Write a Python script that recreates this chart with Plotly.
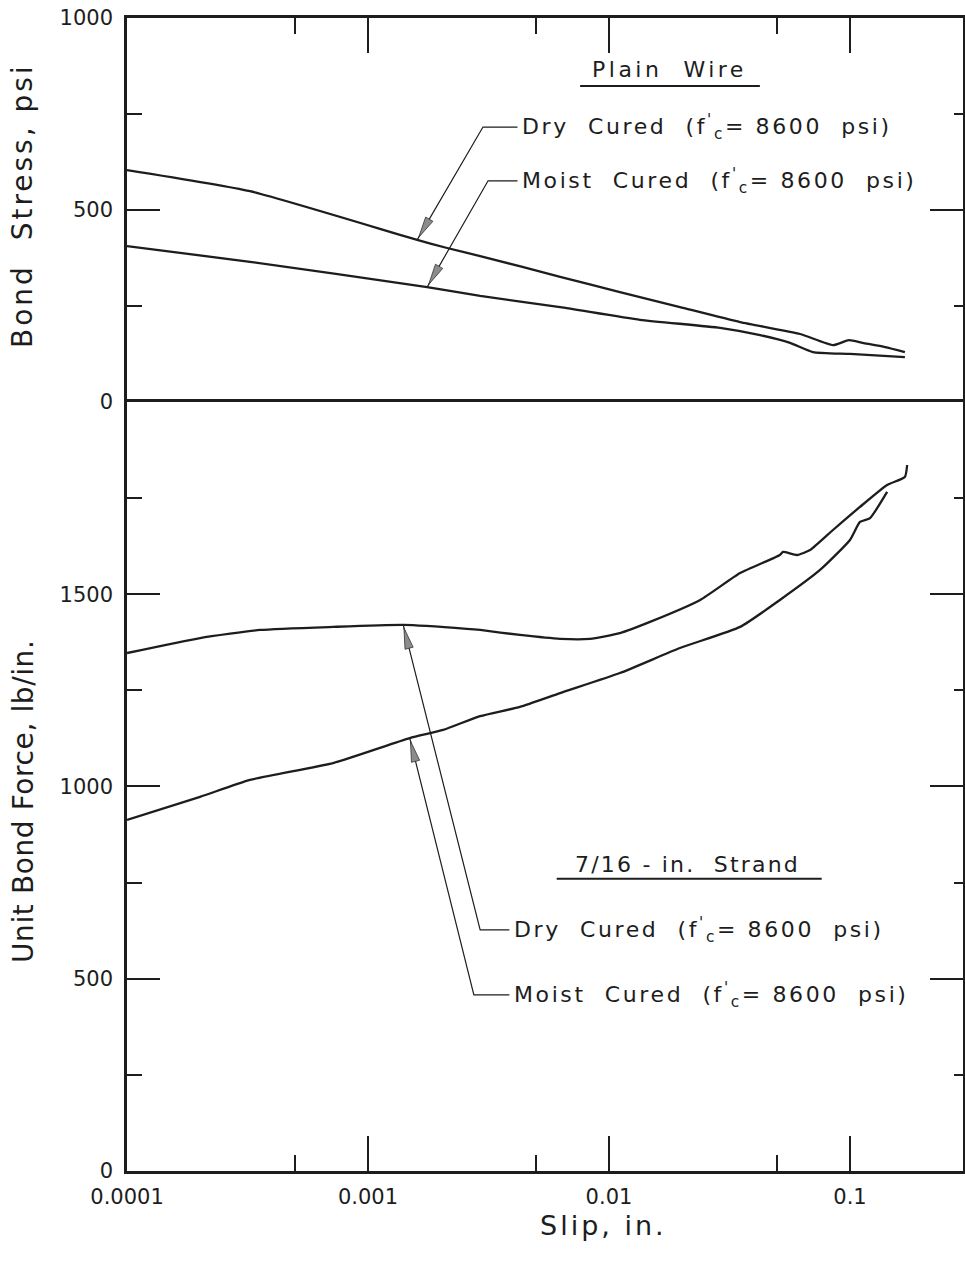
import math
import plotly.graph_objects as go

# ---------------- data ----------------
# Plain wire: bond stress (psi) vs slip (in.)
wire_dry_slip = [1.0e-4, 3.24e-4, 1.60e-3, 2.13e-3, 2.92e-3, 6.27e-3, 0.0111, 0.0197,
                 0.0350, 0.0621, 0.0850, 0.0990, 0.1130, 0.1400, 0.1690]
wire_dry_stress = [604, 549, 422, 401, 380, 326, 286, 247, 208, 177, 148, 161, 154, 143, 130]

wire_moist_slip = [1.0e-4, 3.24e-4, 1.76e-3, 2.92e-3, 6.27e-3, 0.01346, 0.0289, 0.0424,
                   0.0564, 0.0702, 0.1000, 0.1690]
wire_moist_stress = [406, 365, 299, 276, 247, 214, 193, 174, 154, 130, 125, 117]

# 7/16-in. strand: unit bond force (lb/in.) vs slip (in.)
strand_dry_slip = [1.0e-4, 2.01e-4, 3.57e-4, 7.16e-4, 1.40e-3, 2.57e-3, 2.92e-3, 4.27e-3,
                   6.27e-3, 8.34e-3, 0.0111, 0.0148, 0.0239, 0.0350, 0.0512, 0.0528,
                   0.0603, 0.0683, 0.0850, 0.1100, 0.1426, 0.1690, 0.1727]
strand_dry_force = [1347, 1386, 1407, 1415, 1420, 1410, 1407, 1394, 1384, 1384, 1399, 1428,
                    1485, 1555, 1602, 1610, 1602, 1615, 1667, 1727, 1784, 1805, 1836]

strand_moist_slip = [1.0e-4, 2.01e-4, 3.24e-4, 7.16e-4, 1.49e-3, 2.05e-3, 2.92e-3, 4.27e-3,
                     6.27e-3, 0.0111, 0.0197, 0.0350, 0.0512, 0.0751, 0.1000, 0.1100,
                     0.1211, 0.1426]
strand_moist_force = [913, 973, 1017, 1061, 1126, 1147, 1183, 1207, 1243, 1295, 1360, 1415,
                      1485, 1563, 1641, 1688, 1698, 1766]

# axis ticks
slip_major = [1e-4, 1e-3, 1e-2, 1e-1]
slip_major_text = ["0.0001", "0.001", "0.01", "0.1"]
slip_minor = [5e-4, 5e-3, 5e-2]
stress_major = [0, 500, 1000]
stress_minor = [250, 750]
force_major = [0, 500, 1000, 1500, 2000]
force_major_text = ["0", "500", "1000", "1500", ""]
force_minor = [250, 750, 1250, 1750]

# leader annotations: (tip slip, tip value, bend slip, bend value, text slip, text value)
wire_dry_leader = (1.60e-3, 422, 3.00e-3, 716, 4.28e-3, 716)
wire_moist_leader = (1.76e-3, 299, 3.15e-3, 576, 4.28e-3, 576)
strand_dry_leader = (1.40e-3, 1420, 2.92e-3, 627, 3.96e-3, 627)
strand_moist_leader = (1.49e-3, 1126, 2.75e-3, 458, 3.96e-3, 458)

FONT = "DejaVu Sans"
INK = "#1d1d1d"

# ---------------- geometry helpers (layout only) ----------------
W, H = 965, 1262
ML, MR, MT, MB = 127, 2, 18, 91
PW, PH = W - ML - MR, H - MT - MB
XR = [-4, -0.531]
SPLIT = 0.667
PANELS = {"y": (SPLIT, 1.0, 0, 1000), "y2": (0.0, SPLIT, 0, 2000)}


def to_px(xv, yv, ya):
    d0, d1, r0, r1 = PANELS[ya]
    fx = (math.log10(xv) - XR[0]) / (XR[1] - XR[0])
    fy = d0 + (d1 - d0) * (yv - r0) / (r1 - r0)
    return ML + fx * PW, MT + (1 - fy) * PH


def to_paper(px, py):
    return (px - ML) / PW, (MT + PH - py) / PH


fig = go.Figure()


def curve(x, y, xa, ya):
    fig.add_trace(go.Scatter(x=x, y=y, mode="lines", xaxis=xa, yaxis=ya,
                             line=dict(color=INK, width=2.3, shape="spline", smoothing=0.5),
                             showlegend=False, hoverinfo="skip"))


curve(wire_dry_slip, wire_dry_stress, "x", "y")
curve(wire_moist_slip, wire_moist_stress, "x", "y")
curve(strand_dry_slip, strand_dry_force, "x2", "y2")
curve(strand_moist_slip, strand_moist_force, "x2", "y2")


def spaced(s, ls=3):
    return f'<span style="letter-spacing:{ls}px">{s}</span>'


label_dry = "Dry  Cured  (f<sup>'</sup><sub>c</sub>= 8600  psi)"
label_moist = "Moist  Cured  (f<sup>'</sup><sub>c</sub>= 8600  psi)"

annotations = []
shapes = []


def leader(ld, label, xa, ya):
    tx, ty, bx, by, lx, ly = ld
    fig.add_trace(go.Scatter(x=[tx, bx, lx * 0.975], y=[ty, by, ly], mode="lines",
                             xaxis=xa, yaxis=ya, line=dict(color=INK, width=1.2),
                             showlegend=False, hoverinfo="skip"))
    # elongated filled arrowhead
    tpx, tpy = to_px(tx, ty, ya)
    bpx, bpy = to_px(bx, by, ya)
    dx, dy = tpx - bpx, tpy - bpy
    n = math.hypot(dx, dy)
    ux, uy = dx / n, dy / n
    tipx, tipy = tpx - 3 * ux, tpy - 3 * uy
    cx, cy = tipx - 21 * ux, tipy - 21 * uy
    nx, ny = -uy, ux
    pts = [(tipx, tipy), (cx + 4.2 * nx, cy + 4.2 * ny), (cx - 4.2 * nx, cy - 4.2 * ny)]
    pp = [to_paper(*p) for p in pts]
    path = "M{:.5f},{:.5f} L{:.5f},{:.5f} L{:.5f},{:.5f} Z".format(*pp[0], *pp[1], *pp[2])
    shapes.append(dict(type="path", xref="paper", yref="paper", path=path,
                       fillcolor="#8c8c8c", line=dict(color="#333333", width=0.8)))
    annotations.append(dict(x=math.log10(lx), y=ly, xref=xa, yref=ya, text=spaced(label, 2.6),
                            showarrow=False, xanchor="left", yanchor="middle",
                            font=dict(family=FONT, size=22, color=INK)))


leader(wire_dry_leader, label_dry, "x", "y")
leader(wire_moist_leader, label_moist, "x", "y")
leader(strand_dry_leader, label_dry, "x2", "y2")
leader(strand_moist_leader, label_moist, "x2", "y2")

# panel titles
annotations.append(dict(x=0.6495, y=0.865, xref="x domain", yref="y domain",
                        xanchor="center", yanchor="middle",
                        text=spaced("Plain  Wire", 3.5), showarrow=False,
                        font=dict(family=FONT, size=22, color=INK)))
annotations.append(dict(x=0.671, y=0.398, xref="x2 domain", yref="y2 domain",
                        xanchor="center", yanchor="middle",
                        text=spaced("7/16 - in.  Strand", 2.2), showarrow=False,
                        font=dict(family=FONT, size=22, color=INK)))

# axis titles
annotations.append(dict(x=(22 - ML) / PW, y=(MT + PH - 206) / PH, xref="paper", yref="paper",
                        textangle=-90, xanchor="center", yanchor="middle",
                        text=spaced("Bond  Stress, psi", 3), showarrow=False,
                        font=dict(family=FONT, size=28, color=INK)))
annotations.append(dict(x=(23 - ML) / PW, y=(MT + PH - 802) / PH, xref="paper", yref="paper",
                        textangle=-90, xanchor="center", yanchor="middle",
                        text=spaced("Unit Bond Force, lb/in.", 0.6), showarrow=False,
                        font=dict(family=FONT, size=28, color=INK)))
annotations.append(dict(x=(603 - ML) / PW, y=(MT + PH - 1225) / PH, xref="paper",
                        yref="paper", xanchor="center", yanchor="middle",
                        text=spaced("Slip, in.", 3), showarrow=False,
                        font=dict(family=FONT, size=27, color=INK)))

shapes += [
    dict(type="line", xref="x domain", yref="y domain", x0=0.542, x1=0.757, y0=0.823, y1=0.823,
         line=dict(color=INK, width=2)),
    dict(type="line", xref="x2 domain", yref="y2 domain", x0=0.514, x1=0.831, y0=0.380,
         y1=0.380, line=dict(color=INK, width=2)),
]

# invisible anchors for the right-hand tick axes
fig.add_trace(go.Scatter(x=[1e-3], y=[0], xaxis="x", yaxis="y3", mode="markers",
                         marker=dict(opacity=0), showlegend=False, hoverinfo="skip"))
fig.add_trace(go.Scatter(x=[1e-3], y=[0], xaxis="x2", yaxis="y4", mode="markers",
                         marker=dict(opacity=0), showlegend=False, hoverinfo="skip"))

tickfont = dict(family=FONT, size=21, color=INK)
xcommon = dict(type="log", range=XR, showgrid=False, zeroline=False, showline=True,
               linecolor=INK, linewidth=2.5, ticks="inside", ticklen=35,
               tickwidth=2, tickcolor=INK, tickvals=slip_major, ticktext=slip_major_text,
               minor=dict(tickvals=slip_minor, ticks="inside", ticklen=16, tickwidth=2,
                          tickcolor=INK, showgrid=False),
               tickfont=tickfont, ticklabelstandoff=5)
ycommon = dict(showgrid=False, zeroline=False, showline=True, linecolor=INK, linewidth=2.5,
               ticks="inside", ticklen=33, tickwidth=2, tickcolor=INK,
               tickfont=tickfont, ticklabelstandoff=7)


def minor_y(vals, ln):
    return dict(tickvals=vals, ticks="inside", ticklen=ln, tickwidth=2, tickcolor=INK,
                showgrid=False)


fig.update_layout(
    width=W, height=H,
    margin=dict(l=ML, r=MR, t=MT, b=MB),
    paper_bgcolor="white", plot_bgcolor="white",
    xaxis=dict(xcommon, domain=[0, 1], anchor="y", side="top", showticklabels=False),
    yaxis=dict(ycommon, domain=[SPLIT, 1], anchor="x", range=[0, 1000],
               tickvals=stress_major, ticktext=[str(v) for v in stress_major],
               minor=minor_y(stress_minor, 15)),
    yaxis3=dict(ycommon, domain=[SPLIT, 1], anchor="x", overlaying="y", side="right",
                range=[0, 1000], tickvals=stress_major, showticklabels=False,
                minor=minor_y(stress_minor, 9)),
    xaxis2=dict(xcommon, domain=[0, 1], anchor="y2", side="bottom", matches="x", mirror=True),
    yaxis2=dict(ycommon, domain=[0, SPLIT], anchor="x2", range=[0, 2000],
                tickvals=force_major, ticktext=force_major_text,
                minor=minor_y(force_minor, 15)),
    yaxis4=dict(ycommon, domain=[0, SPLIT], anchor="x2", overlaying="y2", side="right",
                range=[0, 2000], tickvals=force_major, showticklabels=False,
                minor=minor_y(force_minor, 9)),
    annotations=annotations,
    shapes=shapes,
    showlegend=False,
)

fig.write_html("out.html")
